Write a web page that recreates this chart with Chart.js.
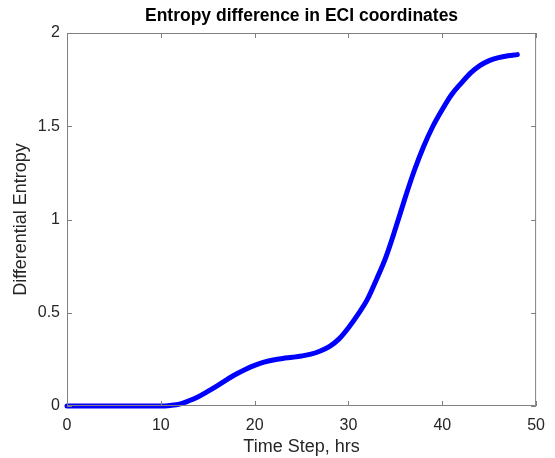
<!DOCTYPE html>
<html>
<head>
<meta charset="utf-8">
<script src="https://cdn.jsdelivr.net/npm/chart.js@4.4.1/dist/chart.umd.min.js"></script>
<style>
  html, body { margin: 0; padding: 0; background: #fff; }
  canvas { display: block; }
</style>
</head>
<body>
<canvas id="grafico" width="555" height="458"></canvas>
<script>
// time steps (hrs) and the entropy difference
const horas = [0, 1, 2, 3, 4, 5, 6, 7, 8, 9, 10, 11, 12, 13, 14, 15, 16, 17, 18, 19, 20,
  21, 22, 23, 24, 25, 26, 27, 28, 29, 30, 31, 32, 33, 34, 35, 36, 37, 38, 39, 40,
  41, 42, 43, 44, 45, 46, 47, 48];
const entropia = [0, 0, 0, 0, 0, 0, 0, 0, 0, 0, 0, 0.003, 0.01, 0.028, 0.05, 0.078, 0.108, 0.14, 0.17, 0.196, 0.218,
  0.235, 0.247, 0.255, 0.261, 0.268, 0.278, 0.295, 0.32, 0.36, 0.42, 0.49, 0.57, 0.68, 0.8, 0.95, 1.11, 1.26, 1.39, 1.5, 1.59,
  1.67, 1.73, 1.785, 1.825, 1.852, 1.868, 1.878, 1.884];
const ticksX = [0, 10, 20, 30, 40, 50];
const ticksY = [0, 0.5, 1, 1.5, 2];

const fuente = "'Liberation Sans', Arial, sans-serif";
const gris = "#808080";
const texto = "#262626";

// MATLAB style box with inward ticks on all four sides
const marco = {
  id: "marco",
  afterDatasetsDraw(chart) {
    const { ctx, chartArea: a, scales } = chart;
    const largo = 5;
    ctx.save();
    ctx.strokeStyle = gris;
    ctx.lineWidth = 1;
    ctx.beginPath();
    ctx.rect(a.left + 0.5, a.top + 0.5, a.right - a.left - 1, a.bottom - a.top - 1);
    ctx.stroke();
    ctx.beginPath();
    ticksX.forEach((t) => {
      const x = Math.round(scales.x.getPixelForValue(t)) + 0.5;
      ctx.moveTo(x, a.bottom);
      ctx.lineTo(x, a.bottom - largo);
      ctx.moveTo(x, a.top);
      ctx.lineTo(x, a.top + largo);
    });
    ticksY.forEach((t) => {
      const y = Math.round(scales.y.getPixelForValue(t)) + 0.5;
      ctx.moveTo(a.left, y);
      ctx.lineTo(a.left + largo, y);
      ctx.moveTo(a.right, y);
      ctx.lineTo(a.right - largo, y);
    });
    ctx.stroke();
    ctx.restore();
  },
};

const grafico = new Chart(document.getElementById("grafico"), {
  type: "line",
  data: {
    datasets: [
      {
        label: "Entropy",
        data: horas.map((h, i) => ({ x: h, y: entropia[i] })),
        borderColor: "#0000ff",
        backgroundColor: "#0000ff",
        borderWidth: 5,
        borderCapStyle: "round",
        pointRadius: 0,
        cubicInterpolationMode: "monotone",
        clip: false,
      },
    ],
  },
  options: {
    responsive: false,
    animation: false,
    devicePixelRatio: 1,
    layout: { padding: { left: 0, right: 10, top: 0, bottom: 0 } },
    plugins: {
      legend: { display: false },
      tooltip: { enabled: false },
      title: {
        display: true,
        text: "Entropy difference in ECI coordinates",
        fullSize: false,
        color: "#000",
        font: { family: fuente, size: 17.5, weight: "bold" },
        padding: { top: 6, bottom: 6 },
      },
    },
    scales: {
      x: {
        type: "linear",
        min: 0,
        max: 50,
        afterBuildTicks: (s) => { s.ticks = ticksX.map((v) => ({ value: v })); },
        afterFit: (s) => { s.height = 52; },
        grid: { display: false, drawTicks: false },
        border: { display: false },
        ticks: {
          color: texto,
          padding: 10,
          font: { family: fuente, size: 16 },
          maxRotation: 0,
          callback: (v) => String(v),
        },
        title: {
          display: true,
          text: "Time Step, hrs",
          color: texto,
          font: { family: fuente, size: 18 },
          padding: { top: 0, bottom: 0 },
        },
      },
      y: {
        type: "linear",
        min: 0,
        max: 2,
        afterBuildTicks: (s) => { s.ticks = ticksY.map((v) => ({ value: v })); },
        afterFit: (s) => { s.width = 67; },
        grid: { display: false, drawTicks: false },
        border: { display: false },
        ticks: {
          color: texto,
          padding: 7,
          font: { family: fuente, size: 16 },
          callback: (v) => String(v),
        },
        title: {
          display: true,
          text: "Differential Entropy",
          color: texto,
          font: { family: fuente, size: 18 },
          padding: { top: 10, bottom: 0 },
        },
      },
    },
  },
  plugins: [marco],
});
</script>
</body>
</html>
